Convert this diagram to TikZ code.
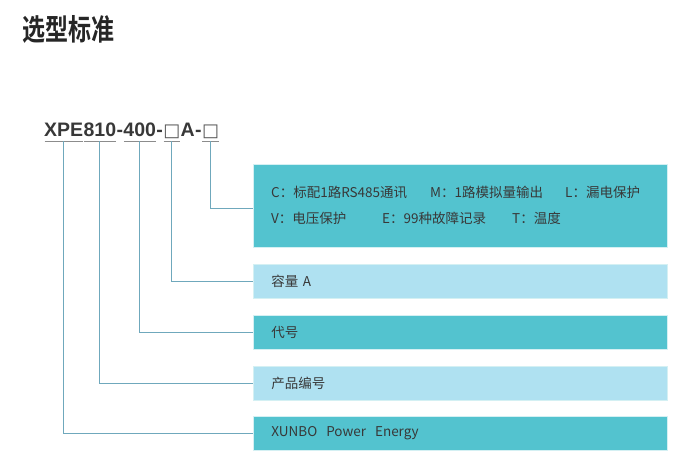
\documentclass[tikz,border=0pt]{standalone}
\usepackage{fontspec}
\setmainfont{Noto Sans CJK SC}[BoldFont={Noto Sans CJK SC Bold}]
\newfontfamily\codefont{Liberation Sans}
\newfontfamily\boxfont{DejaVu Sans}
\usetikzlibrary{positioning}
\definecolor{xbteal}{HTML}{53C3CF}
\definecolor{xblight}{HTML}{AFE1F1}
\definecolor{xbline}{HTML}{6FA8BC}
\definecolor{xbtext}{HTML}{383838}
\definecolor{xbgray}{HTML}{8C8C8C}

\begin{document}
\begin{tikzpicture}[x=1pt,y=-1pt,
    code/.style={font=\fontsize{19.5}{21}\selectfont\codefont\bfseries,text=xbtext,
                 inner xsep=0pt,inner ysep=5pt,text height=14pt,text depth=0pt},
    blank/.style={code,font=\fontsize{18}{21}\selectfont\boxfont,text=xbtext!85},
    uline/.style={xbgray,line width=1pt,shorten <=0.5pt,shorten >=0.5pt},
    conn/.style={xbline,line width=1.2pt},
    band/.style={draw=white!75!xbteal,line width=0.6pt,minimum width=414pt,
                 minimum height=34pt,inner xsep=18pt,text width=378pt,align=left,
                 anchor=north west,font=\fontsize{13.5}{15}\selectfont,text=xbtext},
    item/.style={anchor=west,inner sep=0pt,font=\fontsize{13.5}{15}\selectfont,text=xbtext}]

  \useasboundingbox (0,0) rectangle (700,467);

  % --- title ---
  \node[anchor=base west,inner sep=0pt,font=\fontsize{23}{27}\selectfont\bfseries,
        text=black!85] (title) at (22,40) {\scalebox{1}[1.28]{选型标准}};

  % --- model code ---
  \node[code,anchor=base west] (xpe) at (44,136) {XPE};
  \node[code,right=0pt of xpe] (num) {810};
  \node[code,right=0pt of num] (dash1) {-};
  \node[code,right=0pt of dash1] (cur) {400};
  \node[code,right=0pt of cur] (dash2) {-};
  \node[blank,right=0pt of dash2] (amp) {□};
  \node[code,right=0pt of amp] (unit) {A};
  \node[code,right=0pt of unit] (dash3) {-};
  \node[blank,right=0pt of dash3] (opt) {□};

  \foreach \seg in {xpe,num,cur,amp,opt}
    \draw[uline] (\seg.south west) -- (\seg.south east);

  % --- bands ---
  \node[band,fill=xbteal,minimum height=83pt] (opts) at (253,164) {};
  \node[band,fill=xblight] (capa) at (253,264) {容量 A};
  \node[band,fill=xbteal] (code) at (253,315) {代号};
  \node[band,fill=xblight] (prod) at (253,366) {产品编号};
  \node[band,fill=xbteal] (brand) at (253,416) {XUNBO\ \ Power\ \ Energy};

  % --- option list ---
  \node[item] (optc) at (271,192) {C：标配1路RS485通讯};
  \node[item] (optm) at (430,192) {M：1路模拟量输出};
  \node[item] (optl) at (565,192) {L：漏电保护};
  \node[item] (optv) at (271,218) {V：电压保护};
  \node[item] (opte) at (382,218) {E：99种故障记录};
  \node[item] (optt) at (512,218) {T：温度};

  % --- connectors ---
  \draw[conn] (opt.south) |- ([yshift=-2.5pt]opts.west);
  \draw[conn] (amp.south) |- (capa.west);
  \draw[conn] (cur.south) |- (code.west);
  \draw[conn] (num.south) |- (prod.west);
  \draw[conn] (xpe.south) |- (brand.west);

\end{tikzpicture}
\end{document}
